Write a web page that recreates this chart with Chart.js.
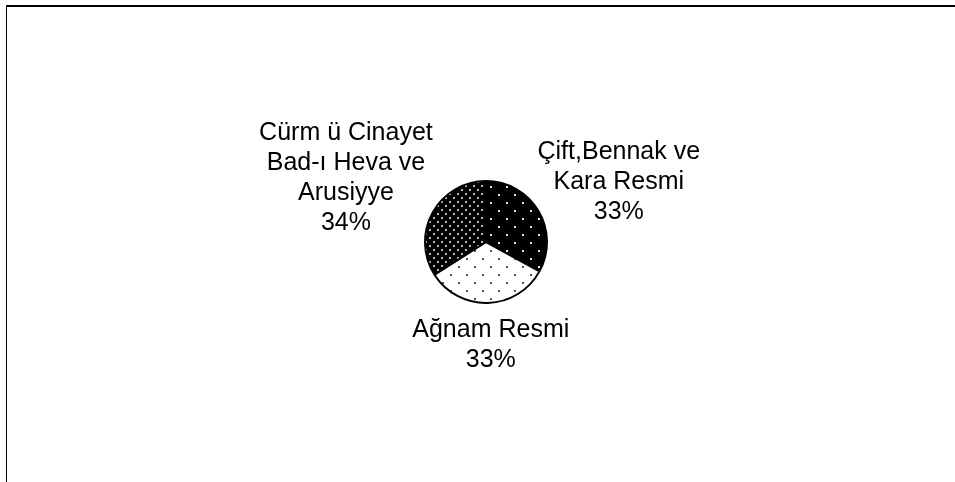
<!DOCTYPE html>
<html>
<head>
<meta charset="utf-8">
<script src="https://cdn.jsdelivr.net/npm/chart.js@4.4.1/dist/chart.umd.min.js"></script>
<style>
html,body{margin:0;padding:0;background:#fff;}
#wrap{width:955px;height:482px;position:relative;}
</style>
</head>
<body>
<div id="wrap"><canvas id="c" width="955" height="482"></canvas></div>
<script>
const categories = [["Çift,Bennak ve", "Kara Resmi"], ["Ağnam Resmi"], ["Cürm ü Cinayet", "Bad-ı Heva ve", "Arusiyye"]];
const values = [33, 33, 34];
const percentLabels = ["33%", "33%", "34%"];

function makePattern(size, bg, dot, pts, dotSize) {
  const c = document.createElement('canvas');
  c.width = size; c.height = size;
  const x = c.getContext('2d');
  x.fillStyle = bg; x.fillRect(0, 0, size, size);
  x.fillStyle = dot;
  pts.forEach(p => x.fillRect(p[0], p[1], dotSize, dotSize));
  return x.createPattern(c, 'repeat');
}

const ctx = document.getElementById('c').getContext('2d');
const patterns = [
  makePattern(16, '#000', '#e8e8e8', [[2, 2], [10, 10]], 2),
  makePattern(16, '#fff', '#555', [[2, 2], [10, 10]], 2),
  makePattern(8, '#000', '#bbb', [[1, 1], [5, 5]], 2)
];

const frame = {
  id: 'frame',
  beforeDraw(chart) {
    const g = chart.ctx;
    g.save();
    g.fillStyle = '#fff';
    g.fillRect(0, 0, chart.width, chart.height);
    g.strokeStyle = '#000';
    g.lineWidth = 2;
    g.beginPath(); g.moveTo(6, 6); g.lineTo(chart.width, 6); g.stroke();
    g.lineWidth = 1;
    g.beginPath(); g.moveTo(6.5, 6); g.lineTo(6.5, chart.height); g.stroke();
    g.restore();
  }
};

const outsideLabels = {
  id: 'outsideLabels',
  afterDatasetsDraw(chart) {
    const g = chart.ctx;
    const meta = chart.getDatasetMeta(0);
    const lineH = 30;
    g.save();
    g.font = '25px "Liberation Sans", Arial, sans-serif';
    g.fillStyle = '#000';
    g.textAlign = 'center';
    g.textBaseline = 'middle';
    meta.data.forEach((arc, i) => {
      const p = arc.getProps(['x', 'y', 'startAngle', 'endAngle', 'outerRadius'], true);
      const mid = (p.startAngle + p.endAngle) / 2;
      const cos = Math.cos(mid), sin = Math.sin(mid);
      const lines = categories[i].concat([percentLabels[i]]);
      let w = 0;
      lines.forEach(l => { w = Math.max(w, g.measureText(l).width); });
      const h = lines.length * lineH;
      const d = p.outerRadius + 12;
      const cx = p.x + d * cos + cos * w / 2;
      const cy = p.y + d * sin + sin * h / 2;
      lines.forEach((l, k) => {
        g.fillText(l, cx, cy - h / 2 + lineH * (k + 0.5));
      });
    });
    g.restore();
  }
};

new Chart(ctx, {
  type: 'pie',
  data: {
    labels: categories.map(c => c.join(' ')),
    datasets: [{
      data: values,
      backgroundColor: patterns,
      borderColor: '#000',
      borderWidth: 2
    }]
  },
  options: {
    responsive: false,
    animation: false,
    radius: 61,
    layout: { padding: { left: 17, right: 0, top: 2, bottom: 0 } },
    plugins: {
      legend: { display: false },
      tooltip: { enabled: false },
      title: { display: false }
    }
  },
  plugins: [frame, outsideLabels]
});
</script>
</body>
</html>
